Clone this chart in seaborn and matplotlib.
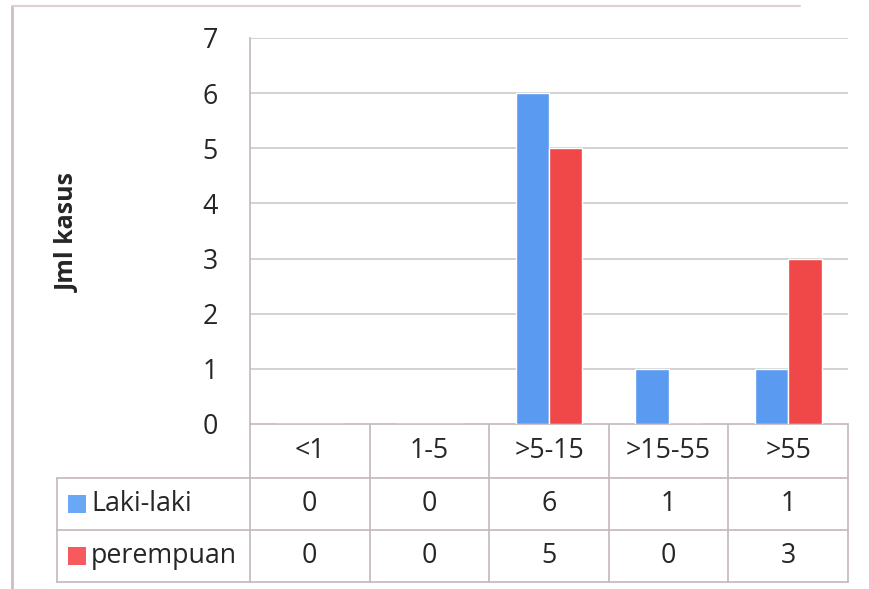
import matplotlib
matplotlib.use("Agg")
import matplotlib.pyplot as plt
import matplotlib.transforms as mtransforms
from matplotlib.lines import Line2D
from matplotlib.patches import Rectangle
import pandas as pd
import seaborn as sns

# Age groups and case counts per sex
categories = ["<1", "1-5", ">5-15", ">15-55", ">55"]
series_names = ["Laki-laki", "perempuan"]
laki_laki = [0, 0, 6, 1, 1]
perempuan = [0, 0, 5, 0, 3]
y_ticks = [0, 1, 2, 3, 4, 5, 6, 7]
y_label = "Jml kasus"

colors = {"Laki-laki": "#5A9AF0", "perempuan": "#F04848"}
legend_colors = {"Laki-laki": "#6AA8F6", "perempuan": "#F65A5E"}
grid_color = "#c6c6c6"
table_color = "#c4b8bc"
text_color = "#262626"
fs = 19.3

sns.set_theme(style="white")
plt.rcParams["font.family"] = ["Open Sans", "DejaVu Sans"]

df = pd.DataFrame({
    "kelompok": categories * 2,
    "jenis": [series_names[0]] * len(categories) + [series_names[1]] * len(categories),
    "jumlah": laki_laki + perempuan,
})

W, H = 869, 589
fig = plt.figure(figsize=(W / 100, H / 100), dpi=100)
fig.patch.set_facecolor("white")

# plot area in pixels: left 250, right 848, top 38, bottom 424
ax = fig.add_axes([250 / W, (H - 424) / H, (848 - 250) / W, (424 - 38) / H])

sns.barplot(data=df, x="kelompok", y="jumlah", hue="jenis", order=categories,
            hue_order=series_names, palette=colors, width=0.56, saturation=1,
            ax=ax, legend=False, zorder=3)

ax.set_ylim(0, 7)
ax.set_xlim(-0.5, len(categories) - 0.5)
ax.set_yticks(y_ticks)
ax.set_yticklabels([str(t) for t in y_ticks])
ax.set_xticks([])
ax.set_xlabel("")
ax.set_ylabel("")
ax.tick_params(axis="y", length=0, pad=23, labelsize=fs, labelcolor=text_color)
for t in y_ticks[1:]:
    ax.axhline(t, color=grid_color, lw=1.1, zorder=1)
for side in ["top", "right", "bottom"]:
    ax.spines[side].set_visible(False)
ax.spines["left"].set_color(table_color)
ax.spines["left"].set_linewidth(1.2)

fig.text(68 / W, (H - 232) / H, y_label, rotation=90, ha="center", va="center",
         fontsize=18, fontweight="bold", color=text_color)

# Data table under the plot: x in data units, y in axes fraction
tr = mtransforms.blended_transform_factory(ax.transData, ax.transAxes)
px = 424 - 38  # axes height in pixels


def yfrac(pix):
    return (424 - pix) / px


x_left = -0.5
x_right = len(categories) - 0.5
unit = (848 - 250) / len(categories)
x_legend = x_left - (250 - 57) / unit

row_edges = [yfrac(424), yfrac(478), yfrac(530), yfrac(582)]
lw = 1.2
# horizontal rules
ax.add_line(Line2D([x_left, x_right], [row_edges[0]] * 2, transform=tr, color=table_color, lw=lw, clip_on=False))
for yy in row_edges[1:]:
    ax.add_line(Line2D([x_legend, x_right], [yy] * 2, transform=tr, color=table_color, lw=lw, clip_on=False))
# vertical rules
ax.add_line(Line2D([x_left, x_left], [row_edges[3], 0], transform=tr, color=table_color, lw=lw, clip_on=False))
for i in range(len(categories)):
    xx = i + 0.5
    ax.add_line(Line2D([xx, xx], [row_edges[3], row_edges[0]], transform=tr, color=table_color, lw=lw, clip_on=False))
ax.add_line(Line2D([x_legend, x_legend], [row_edges[3], row_edges[1]], transform=tr, color=table_color, lw=lw, clip_on=False))

header_y = (row_edges[0] + row_edges[1]) / 2
row_ys = [(row_edges[1] + row_edges[2]) / 2, (row_edges[2] + row_edges[3]) / 2]
for i, c in enumerate(categories):
    ax.text(i, header_y, c, transform=tr, ha="center", va="center", fontsize=fs, color=text_color, clip_on=False)

for name, vals, ry in zip(series_names, [laki_laki, perempuan], row_ys):
    for i, v in enumerate(vals):
        ax.text(i, ry, str(v), transform=tr, ha="center", va="center", fontsize=fs, color=text_color, clip_on=False)
    sq_x = x_legend + (68 - 57) / unit
    sq_w = 18 / unit
    sq_h = 18 / px
    ax.add_patch(Rectangle((sq_x, ry - sq_h / 2), sq_w, sq_h, transform=tr,
                           facecolor=legend_colors[name], edgecolor="none", clip_on=False))
    ax.text(x_legend + (91 - 57) / unit, ry, name, transform=tr, ha="left", va="center",
            fontsize=fs, color=text_color, clip_on=False)

# outer chart frame
fig.add_artist(Line2D([12 / W, 12 / W], [0, (H - 6) / H], transform=fig.transFigure, color="#cdbcc2", lw=2))
fig.add_artist(Line2D([12 / W, 800 / W], [(H - 6) / H] * 2, transform=fig.transFigure, color="#ddd0d4", lw=1.5))

fig.savefig("out.png", dpi=100, facecolor="white")
